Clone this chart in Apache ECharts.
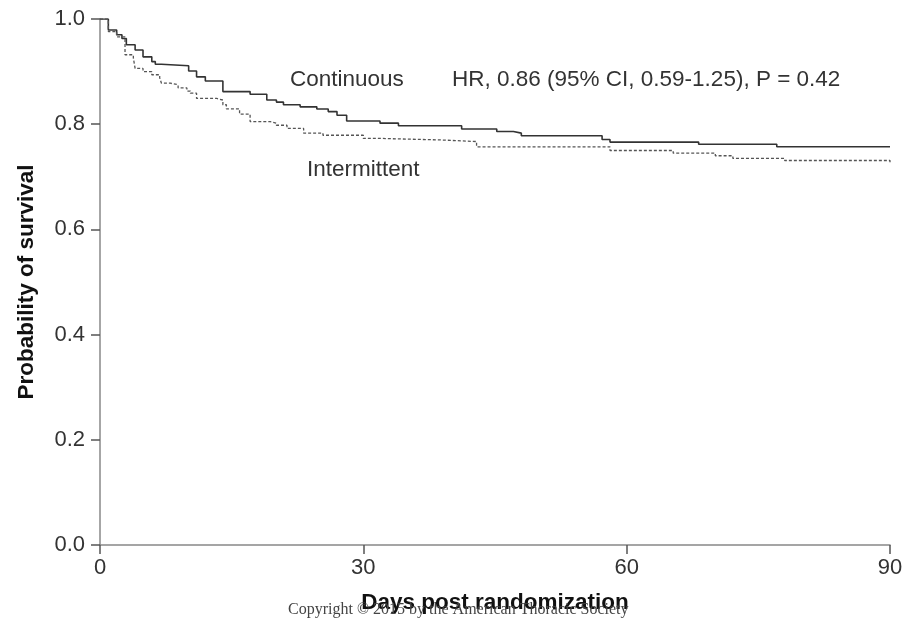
<!DOCTYPE html>
<html>
<head>
<meta charset="utf-8">
<script src="https://cdn.jsdelivr.net/npm/echarts@6/dist/echarts.min.js"></script>
<style>
  html, body { margin: 0; padding: 0; background: #fff; }
  #chart { width: 906px; height: 625px; }
</style>
</head>
<body>
<div id="chart"></div>
<script>
// Kaplan-Meier steps: day of drop -> survival after it
const contDays = [0, 0.95, 1.9, 2.5, 3.0, 4.0, 4.9, 5.9, 6.3, 7.0, 10.1, 11.0, 12.0, 14.0, 17.1, 19.0, 20.1, 20.9, 22.8, 24.7, 26.0, 27.0, 28.1, 31.9, 34.0, 41.2, 45.2, 47.1, 48.0, 57.2, 58.1, 68.2, 77.1, 90];
const contSurv = [1.0, 0.979, 0.970, 0.963, 0.951, 0.941, 0.928, 0.919, 0.914, 0.911, 0.901, 0.890, 0.882, 0.862, 0.857, 0.846, 0.842, 0.837, 0.833, 0.829, 0.824, 0.817, 0.806, 0.802, 0.797, 0.791, 0.786, 0.783, 0.778, 0.771, 0.766, 0.762, 0.757, 0.757];

const interDays = [0, 0.95, 1.9, 2.85, 3.8, 4.0, 4.9, 5.9, 6.8, 7.0, 8.0, 8.9, 9.9, 10.3, 11.0, 13.3, 14.0, 14.4, 15.9, 17.1, 19.4, 20.1, 21.3, 23.2, 25.4, 30.0, 31.9, 38.9, 42.9, 58.1, 65.3, 70.1, 72.1, 78.0, 90];
const interSurv = [1.0, 0.976, 0.966, 0.932, 0.926, 0.906, 0.900, 0.894, 0.888, 0.878, 0.875, 0.869, 0.863, 0.859, 0.849, 0.846, 0.837, 0.829, 0.819, 0.805, 0.802, 0.798, 0.792, 0.783, 0.779, 0.773, 0.770, 0.767, 0.757, 0.750, 0.745, 0.740, 0.735, 0.731, 0.727];

const xTicks = [0, 30, 60, 90];

const font = '"Liberation Sans", Arial, sans-serif';

let chart = echarts.init(document.getElementById('chart'));

let option = {
    animation: false,
    backgroundColor: '#fff',
    grid: {
        left: 100,
        right: 16,
        top: 19,
        bottom: 80
    },
    xAxis: {
        type: 'value',
        min: 0,
        max: 90,
        interval: 30,
        name: 'Days post randomization',
        nameLocation: 'middle',
        nameGap: 46,
        nameTextStyle: {
            fontFamily: font,
            fontSize: 22.5,
            fontWeight: 'bold',
            color: '#111'
        },
        axisLine: {
            show: true,
            lineStyle: { color: '#888', width: 1.5 }
        },
        axisTick: {
            show: true,
            length: 9,
            lineStyle: { color: '#555', width: 1.5 }
        },
        axisLabel: {
            margin: 12,
            fontFamily: font,
            fontSize: 22,
            color: '#333',
            formatter: function (v) {
                return xTicks.indexOf(v) >= 0 ? String(v) : '';
            }
        },
        splitLine: { show: false }
    },
    yAxis: {
        type: 'value',
        min: 0,
        max: 1,
        interval: 0.2,
        name: 'Probability of survival',
        nameLocation: 'middle',
        nameGap: 62,
        nameTextStyle: {
            fontFamily: font,
            fontSize: 22.5,
            fontWeight: 'bold',
            color: '#111'
        },
        axisLine: {
            show: true,
            lineStyle: { color: '#888', width: 1.5 }
        },
        axisTick: {
            show: true,
            length: 9,
            lineStyle: { color: '#555', width: 1.5 }
        },
        axisLabel: {
            margin: 15,
            fontFamily: font,
            fontSize: 22,
            color: '#333',
            formatter: function (v) {
                return v.toFixed(1);
            }
        },
        splitLine: { show: false }
    },
    graphic: [
        {
            type: 'text',
            left: 288,
            top: 602,
            z: 1,
            style: {
                text: 'Copyright \u00a9 2015 by the American Thoracic Society',
                font: '16px "Liberation Serif", "Times New Roman", serif',
                fill: '#444'
            }
        },
        {
            type: 'text',
            left: 290,
            top: 68,
            style: {
                text: 'Continuous',
                font: '22.5px ' + font,
                fill: '#333'
            }
        },
        {
            type: 'text',
            left: 452,
            top: 68,
            style: {
                text: 'HR, 0.86 (95% CI, 0.59-1.25), P = 0.42',
                font: '22.5px ' + font,
                fill: '#333'
            }
        },
        {
            type: 'text',
            left: 307,
            top: 158,
            style: {
                text: 'Intermittent',
                font: '22.5px ' + font,
                fill: '#333'
            }
        }
    ],
    series: [
        {
            name: 'Continuous',
            type: 'line',
            step: 'end',
            symbol: 'none',
            z: 3,
            lineStyle: { color: '#333', width: 1.6 },
            data: contDays.map((d, i) => [d, contSurv[i]])
        },
        {
            name: 'Intermittent',
            type: 'line',
            step: 'end',
            symbol: 'none',
            z: 3,
            lineStyle: { color: '#555', width: 1.3, type: [3, 2] },
            data: interDays.map((d, i) => [d, interSurv[i]])
        }
    ]
};

chart.setOption(option);
</script>
</body>
</html>
